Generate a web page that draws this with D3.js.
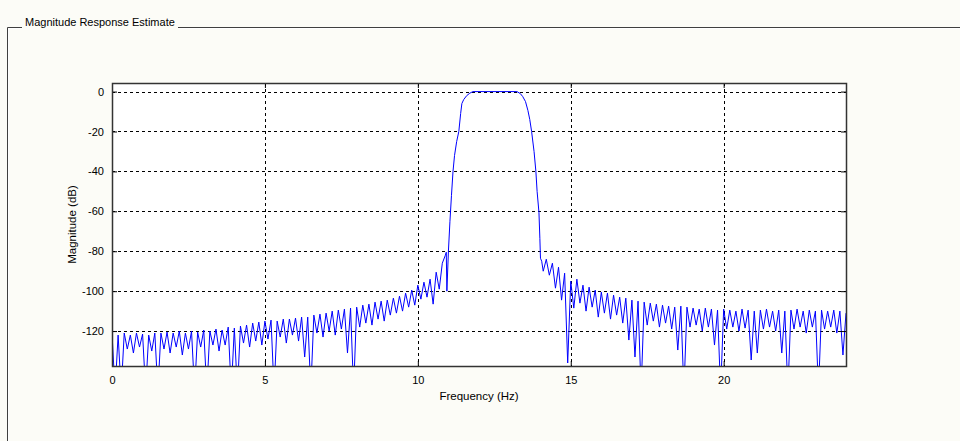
<!DOCTYPE html>
<html>
<head>
<meta charset="utf-8">
<script src="https://cdn.jsdelivr.net/npm/d3@7"></script>
<style>
  html, body { margin: 0; padding: 0; background: #fcfcf7; }
  svg { display: block; }
  text { font-family: Arial, "Liberation Sans", sans-serif; fill: #000; }
</style>
</head>
<body>
<div id="chart"></div>
<script>
// stopband below the passband, 0.0 .. 10.9 Hz in 0.1 Hz steps (dB)
var lowBandStart = 0.0;
var highBandStart = 14.1;
var bandStep = 0.1;
var lowBandDb = [
  -121, -150, -122, -150, -121, -129, -122, -131, -121, -128,
  -121.5, -150, -122, -130, -121, -150, -121, -129, -120.5, -131,
  -121, -128, -120, -132, -121, -129, -120, -150, -120.5, -128,
  -119.5, -150, -120, -127, -119, -130, -119.5, -127, -118, -150,
  -118.5, -150, -117.5, -126, -117, -128, -116, -125, -115.5, -127,
  -115, -124, -114.5, -150, -115, -123, -114, -126, -114, -122,
  -113.5, -125, -113, -133, -113, -150, -112, -121, -111.5, -123,
  -111, -120, -110, -122, -109.5, -119, -109, -131, -108.5, -150,
  -108, -118, -107, -116, -106.5, -117, -105.5, -114, -105, -115,
  -104.5, -112, -103.5, -111, -102.5, -110, -101, -108, -99.5, -107,
  -97, -104, -95.5, -103, -94, -106.5, -90.5, -99, -86, -82
];

// transition edges and passband, [frequency Hz, dB]
var passBand = [
  [10.93, -80.5], [10.95, -100], [11.0, -80], [11.05, -65], [11.1, -52],
  [11.15, -40], [11.2, -32], [11.27, -25], [11.34, -20], [11.4, -11],
  [11.44, -6], [11.5, -4], [11.6, -2], [11.7, -0.8], [11.8, 0],
  [13.24, 0], [13.35, -1], [13.43, -2.5], [13.52, -5], [13.6, -9.5],
  [13.66, -14], [13.72, -20], [13.8, -30], [13.86, -40], [13.9, -50],
  [13.96, -60.5], [13.99, -73.5], [14.01, -83.5], [14.05, -85]
];

// stopband above the passband, 14.1 .. 24.0 Hz in 0.1 Hz steps (dB)
var highBandDb = [
  -90, -84, -92, -86, -98.5, -88, -104.5, -91, -136, -95,
  -108.5, -94, -106, -97, -110, -98, -108, -99.5, -113, -100.5,
  -111, -101, -114, -102, -112, -103, -116, -103.5, -124.5, -104.5,
  -133, -105, -150, -105.5, -117, -106, -115, -106.5, -118, -107,
  -116, -107.5, -119, -108, -129.5, -107.5, -150, -108, -118, -108.5,
  -117, -109, -120, -108.5, -118, -109, -127, -109.5, -150, -109,
  -119, -109.5, -118, -110, -120, -109, -118.5, -109.5, -134.5, -110,
  -131, -109.5, -119, -109, -118, -110, -120, -109.5, -131, -110,
  -150, -109.5, -119, -109, -118, -110, -121, -109.5, -118, -110,
  -150, -109.5, -119, -110, -118, -109.5, -121, -110, -132, -111
];

var xTicks = [0, 5, 10, 15, 20];
var yTicks = [0, -20, -40, -60, -80, -100, -120];
var xDomain = [0, 24];
var yDomain = [-137.5, 4.3];

var W = 960, H = 441;
var plot = { l: 112, r: 846, t: 83, b: 366 };

var svg = d3.select('#chart').append('svg')
    .attr('width', W)
    .attr('height', H);

// panel frame with title
var frame = svg.append('g').attr('class', 'frame');
frame.append('path')
    .attr('d', 'M7.5,441 V27.5 H22')
    .attr('fill', 'none').attr('stroke', '#404040');
frame.append('path')
    .attr('d', 'M8.5,441 V28.5 H22')
    .attr('fill', 'none').attr('stroke', '#ffffff');
frame.append('line')
    .attr('x1', 178).attr('x2', W).attr('y1', 27.5).attr('y2', 27.5)
    .attr('stroke', '#404040');
frame.append('line')
    .attr('x1', 178).attr('x2', W).attr('y1', 28.5).attr('y2', 28.5)
    .attr('stroke', '#ffffff');
frame.append('text')
    .attr('x', 25).attr('y', 26)
    .attr('font-size', 11)
    .text('Magnitude Response Estimate');

var x = d3.scaleLinear().domain(xDomain).range([plot.l, plot.r]);
var y = d3.scaleLinear().domain(yDomain).range([plot.b, plot.t]);

svg.append('rect')
    .attr('x', plot.l).attr('y', plot.t)
    .attr('width', plot.r - plot.l).attr('height', plot.b - plot.t)
    .attr('fill', '#ffffff');

svg.append('defs').append('clipPath').attr('id', 'plotClip')
  .append('rect')
    .attr('x', plot.l).attr('y', plot.t)
    .attr('width', plot.r - plot.l).attr('height', plot.b - plot.t);

// dotted grid
var grid = svg.append('g').attr('class', 'grid');
grid.selectAll('line.gx').data(xTicks.filter(d => d > xDomain[0])).enter().append('line')
    .attr('x1', d => Math.round(x(d)) + 0.5).attr('x2', d => Math.round(x(d)) + 0.5)
    .attr('y1', plot.t).attr('y2', plot.b)
    .attr('stroke', '#000').attr('stroke-dasharray', '3,3');
grid.selectAll('line.gy').data(yTicks).enter().append('line')
    .attr('y1', d => Math.round(y(d)) + 0.5).attr('y2', d => Math.round(y(d)) + 0.5)
    .attr('x1', plot.l).attr('x2', plot.r)
    .attr('stroke', '#000').attr('stroke-dasharray', '3,3');

// response curve
var points = []
    .concat(lowBandDb.map((v, i) => [lowBandStart + i * bandStep, v]))
    .concat(passBand)
    .concat(highBandDb.map((v, i) => [highBandStart + i * bandStep, v]));

var line = d3.line()
    .x(d => x(d[0]))
    .y(d => y(d[1]));

svg.append('path')
    .datum(points)
    .attr('clip-path', 'url(#plotClip)')
    .attr('d', line)
    .attr('fill', 'none')
    .attr('stroke', '#0000ff')
    .attr('stroke-width', 1);

// axes: ticks inside, box on all sides (plain hyphen minus like the original)
var fmt = d => String(d);
var axes = svg.append('g').attr('class', 'axes');
axes.append('g')
    .attr('transform', 'translate(0,' + plot.b + ')')
    .call(d3.axisBottom(x).tickValues(xTicks).tickFormat(fmt).tickSizeInner(-5).tickSizeOuter(0).tickPadding(10));
axes.append('g')
    .attr('transform', 'translate(0,' + plot.t + ')')
    .call(d3.axisTop(x).tickValues(xTicks).tickSizeInner(-5).tickSizeOuter(0).tickFormat(''));
axes.append('g')
    .attr('transform', 'translate(' + plot.l + ',0)')
    .call(d3.axisLeft(y).tickValues(yTicks).tickFormat(fmt).tickSizeInner(-5).tickSizeOuter(0).tickPadding(8));
axes.append('g')
    .attr('transform', 'translate(' + plot.r + ',0)')
    .call(d3.axisRight(y).tickValues(yTicks).tickSizeInner(-5).tickSizeOuter(0).tickFormat(''));
axes.selectAll('.domain').remove();
axes.selectAll('line').attr('stroke', '#000');
axes.selectAll('text')
    .attr('font-size', 11)
    .attr('font-family', 'Arial, "Liberation Sans", sans-serif')
    .attr('fill', '#000');

svg.append('rect')
    .attr('x', plot.l + 0.5).attr('y', plot.t + 0.5)
    .attr('width', plot.r - plot.l).attr('height', plot.b - plot.t)
    .attr('fill', 'none').attr('stroke', '#333').attr('stroke-width', 1.5);

svg.append('text')
    .attr('x', (plot.l + plot.r) / 2).attr('y', 400)
    .attr('text-anchor', 'middle')
    .attr('font-size', 11.5)
    .text('Frequency (Hz)');

svg.append('text')
    .attr('transform', 'translate(76,' + (plot.t + plot.b) / 2 + ') rotate(-90)')
    .attr('text-anchor', 'middle')
    .attr('font-size', 11.5)
    .text('Magnitude (dB)');
</script>
</body>
</html>
